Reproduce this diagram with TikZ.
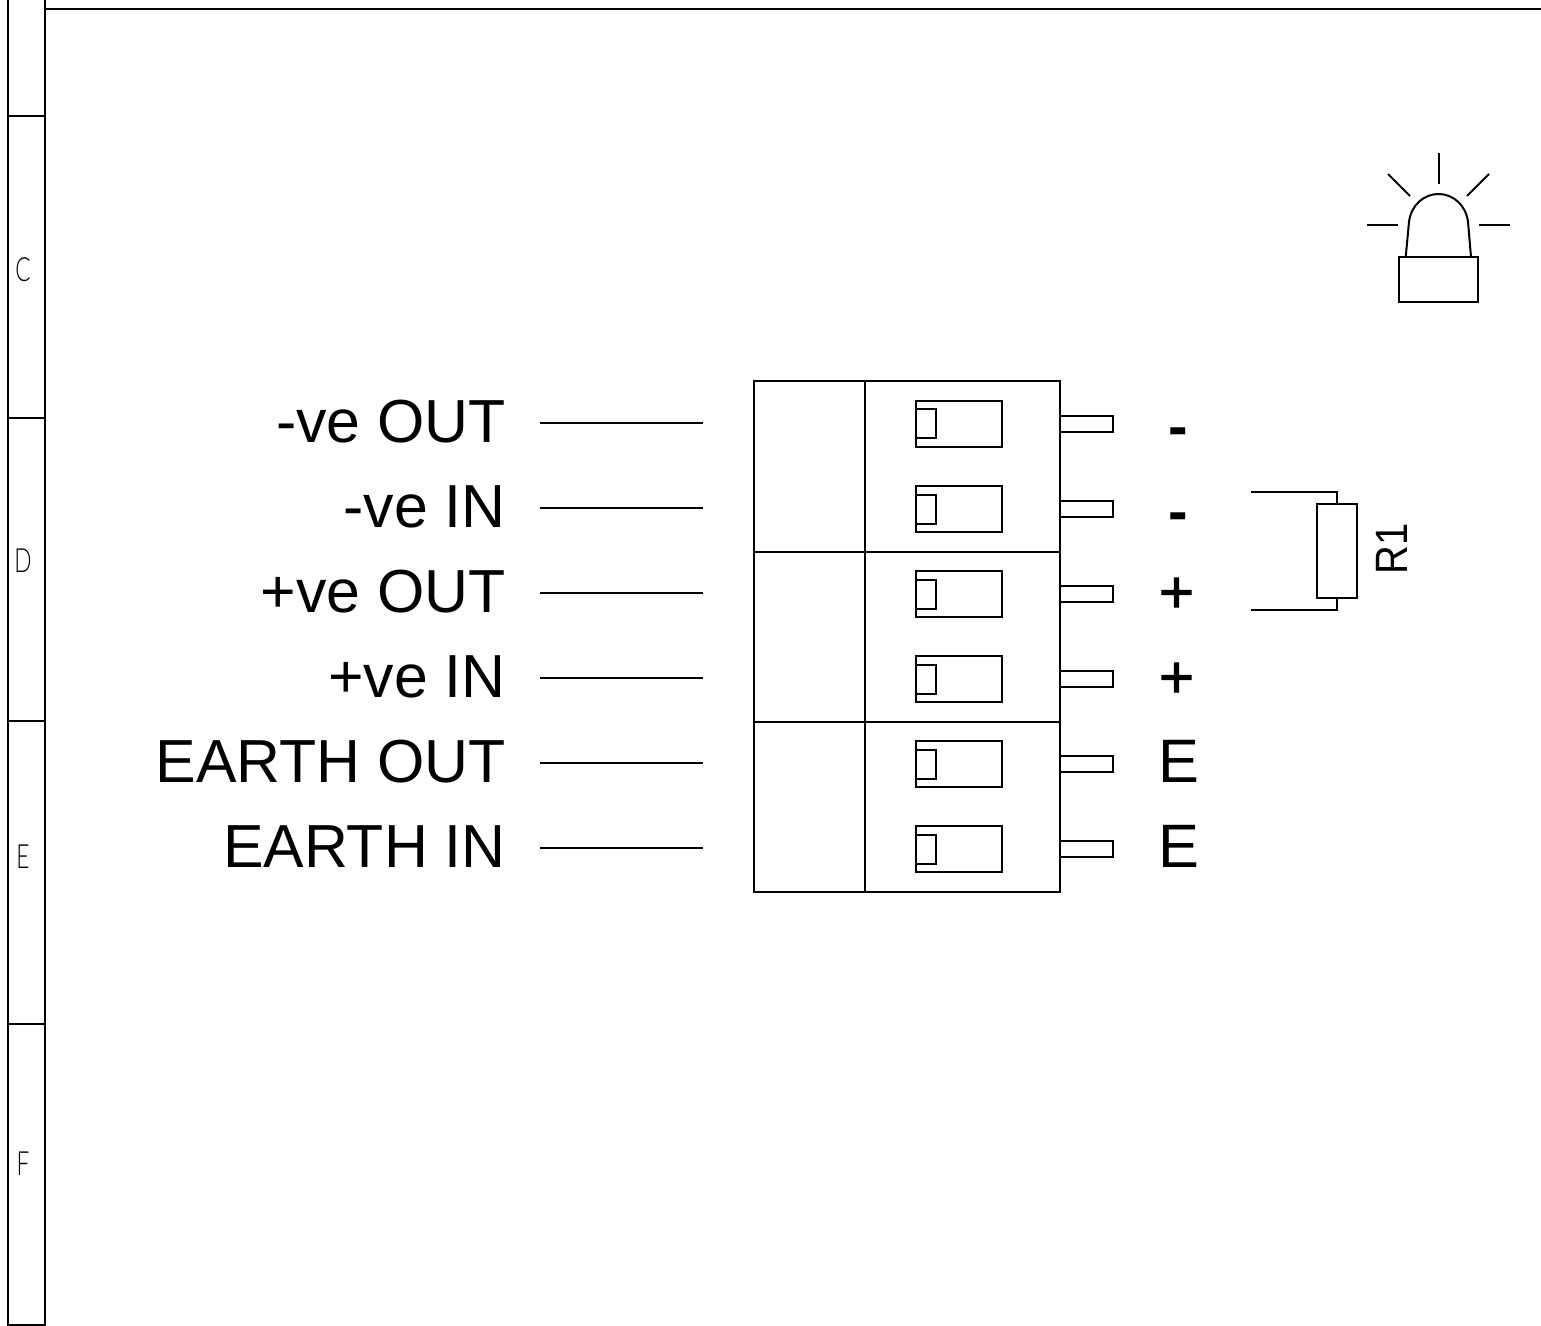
\documentclass[tikz,border=0pt]{standalone}
\usepackage{fontspec}
\setmainfont{Liberation Sans}
\newfontfamily\zonefont{Lato Light}
\newfontfamily\plusfont[FakeBold=1.5]{Liberation Sans}
\tikzset{
  px/.style={x=0.75pt,y=-0.75pt},
  wire/.style={line width=1.5pt,black},
  biglabel/.style={anchor=base east,inner sep=0pt,font=\fontsize{45.6}{46}\selectfont},
  pinlabel/.style={anchor=base,inner sep=0pt,font=\fontsize{46}{46}\selectfont},
  minuspin/.style={pinlabel,font=\fontsize{44}{44}\selectfont\bfseries},
  pluspin/.style={pinlabel,font=\fontsize{45}{45}\selectfont\plusfont},
  zonelabel/.style={inner sep=0pt,xscale=0.68,font=\fontsize{25}{25}\selectfont\zonefont},
}
\begin{document}
\begin{tikzpicture}[px]
\useasboundingbox (0,0) rectangle (1541,1326);
% sheet frame
\draw[wire] (7.5,0) -- (7.5,1325) -- (44.5,1325) -- (44.5,0);
\draw[wire] (44.5,9) -- (1541,9);
\foreach \y in {116,418,721,1024} \draw[wire] (7.5,\y) -- (44.5,\y);
\node[zonelabel] (zc) at (23,270) {C};
\node[zonelabel] (zd) at (23,561) {D};
\node[zonelabel] (ze) at (23,857) {E};
\node[zonelabel] (zf) at (23,1164) {F};
% connector body
\draw[wire] (754,381) rectangle (1060,892);
\draw[wire] (864.5,381) -- (864.5,892);
\draw[wire] (754,552) -- (1060,552);
\draw[wire] (754,722) -- (1060,722);
% rows
\foreach \i/\txt in {0/-ve OUT,1/-ve IN,2/+ve OUT,3/+ve IN,4/EARTH OUT,5/EARTH IN}{
  \pgfmathsetmacro{\d}{85*\i}
  \begin{scope}[yshift=-0.75pt*\d]
    \draw[wire] (916,401) rectangle (1002,447);
    \draw[wire] (916,409.5) rectangle (936,438.5);
    \draw[wire] (1060,416) rectangle (1113,431.7);
    \coordinate (a\i) at (540,423);
    \coordinate (b\i) at (703,423);
    \draw[wire] (a\i) -- (b\i);
    \node[biglabel] (l\i) at (506,442) {\txt};
  \end{scope}
}
\node[minuspin] (p0) at (1178.5,446) {-};
\node[minuspin] (p1) at (1178.5,531.5) {-};
\node[pluspin] (p2) at (1176.5,612.5) {+};
\node[pluspin] (p3) at (1176.5,697.5) {+};
\node[pinlabel] (p4) at (1179,782) {E};
\node[pinlabel] (p5) at (1179,867) {E};
% resistor
\coordinate (r1a) at (1251,492);
\coordinate (r1b) at (1251,610);
\node[draw,line width=1.5pt,minimum width=30.4pt,minimum height=70.5pt,inner sep=0pt] (r1) at (1337,551) {};
\draw[wire] (r1a) -| (r1.north);
\draw[wire] (r1b) -| (r1.south);
\node[rotate=90,inner sep=0pt,anchor=base,font=\fontsize{34}{34}\selectfont] (r1t) at (1407,548.5) {\scalebox{.88}[1]{R1}};
% beacon
\draw[wire] (1399,257) rectangle (1478,302);
\draw[wire] (1405.7,257) -- (1409,222) .. controls (1411,205) and (1424,194) .. (1438.5,194)
  .. controls (1453,194) and (1466,205) .. (1468,222) -- (1471,257);
\draw[wire] (1438.5,153) -- (1438.5,184);
\draw[wire] (1388,174) -- (1410,196);
\draw[wire] (1489,174) -- (1467,196);
\draw[wire] (1367,224.7) -- (1398,224.7);
\draw[wire] (1479,224.7) -- (1510,224.7);
\end{tikzpicture}
\end{document}
